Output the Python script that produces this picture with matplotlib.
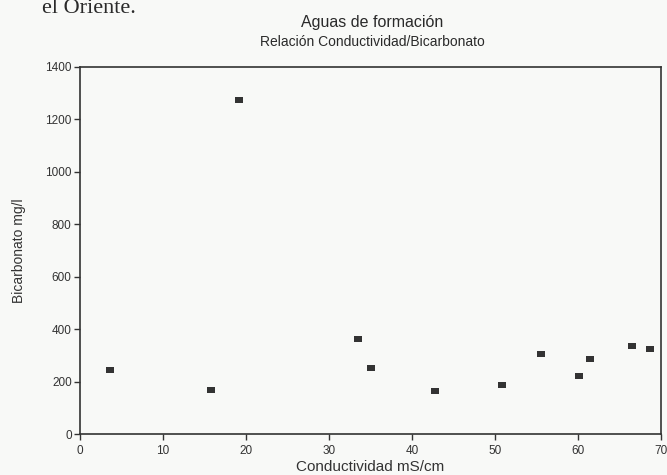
import numpy as np
import matplotlib
matplotlib.use("Agg")
import matplotlib.pyplot as plt

plt.rcParams['font.family'] = ['Liberation Sans', 'DejaVu Sans']

# values
conductividad = [3.6, 15.8, 19.2, 33.5, 35.1, 42.8, 50.9, 55.6, 60.1, 61.4, 66.5, 68.7]
bicarbonato = [245, 170, 1275, 362, 252, 165, 188, 305, 220, 288, 338, 326]

x_ticks = [0, 10, 20, 30, 40, 50, 60, 70]
y_ticks = [0, 200, 400, 600, 800, 1000, 1200, 1400]

bg = '#f8f9f7'
ink = '#333333'

fig = plt.figure(figsize=(6.67, 4.75), dpi=100, facecolor=bg)
ax = fig.add_axes([0.120, 0.086, 0.871, 0.773], facecolor=bg)

# small rectangle marker like the scanned plot
rect = [(-1.2, -0.9), (1.2, -0.9), (1.2, 0.9), (-1.2, 0.9), (-1.2, -0.9)]
ax.scatter(conductividad, bicarbonato, marker=rect, s=40, color='#333333', linewidths=0)

ax.set_xlim(0, 70)
ax.set_ylim(0, 1400)
ax.set_xticks(x_ticks)
ax.set_yticks(y_ticks)
ax.tick_params(direction='out', length=4, width=1, colors=ink, labelsize=8.5)
ax.tick_params(axis='x', pad=4)
ax.tick_params(axis='y', pad=2)

for s in ax.spines.values():
    s.set_color(ink)
    s.set_linewidth(1.2)

ax.set_xlabel("Conductividad mS/cm", fontsize=11, color=ink, labelpad=2)
ax.set_ylabel("Bicarbonato mg/l", fontsize=10, color=ink, labelpad=14)

fig.text(0.558, 0.953, "Aguas de formación", ha='center', va='center',
         fontsize=11.5, color='#2a2a2a')
fig.text(0.558, 0.912, "Relación Conductividad/Bicarbonato", ha='center', va='center',
         fontsize=10, color='#2a2a2a')

# text fragment from the page above the chart
fig.text(0.063, 1 - 13 / 475, "el Oriente.", ha='left', va='baseline',
         fontsize=16, family='Liberation Serif', color='#2a2a2a')

fig.savefig("out.png", dpi=100, facecolor=bg)
